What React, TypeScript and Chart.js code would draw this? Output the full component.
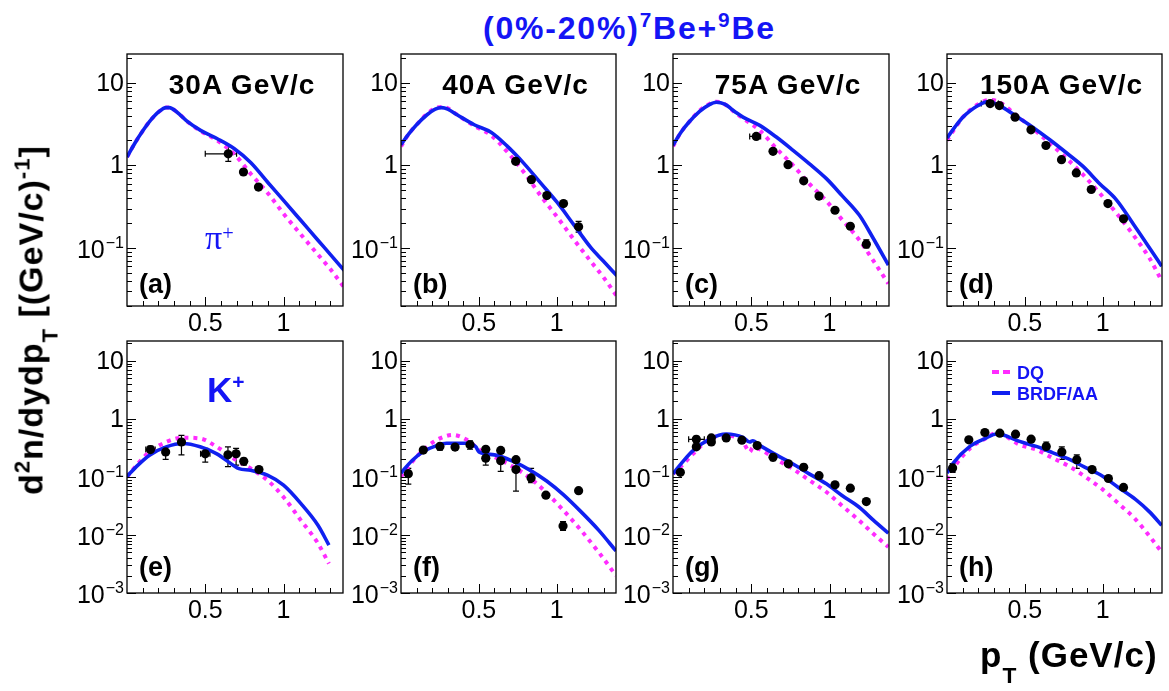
import React, { useEffect, useRef } from "react";
import { Chart, registerables } from "chart.js";
Chart.register(...registerables);

// ---------------- data ----------------
const X_MAX = 1.38;
const PI_Y_RANGE: [number, number] = [0.0198, 22.3];
const K_Y_RANGE: [number, number] = [0.001, 22];
const X_MAJOR_TICKS = [0.5, 1];
const X_MAJOR_LABELS = ["0.5", "1"];
const ENERGIES = ["30A GeV/c", "40A GeV/c", "75A GeV/c", "150A GeV/c"];
const TAGS = ["(a)", "(b)", "(c)", "(d)", "(e)", "(f)", "(g)", "(h)"];
const SERIES_NAMES = ["DQ", "BRDF/AA"];

type P = [number, number];
type E = number[]; // [x, y, yLo, yHi, xLo, xHi]

// pi+ , 30A
const A_BRDF: P[] = [[0, 1.26], [0.05, 1.85], [0.1, 2.6], [0.15, 3.5], [0.2, 4.4], [0.25, 5.0], [0.27, 5.0], [0.32, 4.4], [0.385, 3.4], [0.47, 2.65], [0.577, 2.1], [0.684, 1.6], [0.79, 1.08], [0.9, 0.62], [1.0, 0.376], [1.11, 0.216], [1.22, 0.124], [1.3, 0.083], [1.389, 0.053]];
const A_DQ: P[] = [[0, 1.26], [0.05, 1.85], [0.1, 2.6], [0.15, 3.5], [0.2, 4.4], [0.25, 5.0], [0.27, 5.0], [0.32, 4.4], [0.385, 3.4], [0.47, 2.6], [0.577, 2.0], [0.684, 1.38], [0.79, 0.79], [0.9, 0.46], [1.0, 0.26], [1.11, 0.146], [1.22, 0.083], [1.3, 0.055], [1.389, 0.033]];
const A_EXP: E[] = [[0.647, 1.38, 1.12, 1.67, 0.5, 0.7], [0.744, 0.83], [0.84, 0.546]];

// pi+ , 40A
const B_BRDF: P[] = [[0, 1.78], [0.05, 2.4], [0.1, 3.1], [0.167, 4.1], [0.22, 4.8], [0.26, 5.0], [0.3, 4.8], [0.36, 4.1], [0.47, 3.1], [0.58, 2.5], [0.68, 1.72], [0.79, 1.05], [0.9, 0.6], [1.0, 0.36], [1.11, 0.19], [1.22, 0.1], [1.3, 0.069], [1.386, 0.046]];
const B_DQ: P[] = [[0, 1.7], [0.05, 2.4], [0.1, 3.1], [0.167, 4.2], [0.22, 4.9], [0.26, 5.1], [0.3, 4.9], [0.36, 4.1], [0.47, 3.0], [0.58, 2.3], [0.68, 1.47], [0.79, 0.82], [0.9, 0.42], [1.0, 0.24], [1.11, 0.126], [1.22, 0.068], [1.3, 0.044], [1.386, 0.026]];
const B_EXP: E[] = [[0.736, 1.12], [0.837, 0.67], [0.936, 0.43], [1.043, 0.344], [1.14, 0.18, 0.155, 0.21]];

// pi+ , 75A
const C_BRDF: P[] = [[0, 1.75], [0.05, 2.5], [0.1, 3.3], [0.17, 4.5], [0.23, 5.4], [0.277, 5.8], [0.33, 5.5], [0.4, 4.4], [0.447, 3.84], [0.554, 3.05], [0.66, 2.2], [0.767, 1.52], [0.87, 1.05], [0.98, 0.69], [1.08, 0.43], [1.19, 0.25], [1.28, 0.13], [1.376, 0.062]];
const C_DQ: P[] = [[0, 1.7], [0.05, 2.5], [0.1, 3.3], [0.17, 4.6], [0.23, 5.5], [0.277, 5.9], [0.33, 5.5], [0.4, 4.3], [0.447, 3.7], [0.554, 2.65], [0.66, 1.6], [0.767, 1.0], [0.87, 0.6], [0.98, 0.37], [1.08, 0.22], [1.19, 0.125], [1.28, 0.07], [1.376, 0.037]];
const C_EXP: E[] = [[0.532, 2.24, 2.1, 2.4, 0.49, 0.56], [0.639, 1.48], [0.735, 1.02], [0.835, 0.65], [0.933, 0.425], [1.035, 0.286], [1.133, 0.183], [1.235, 0.111, 0.1, 0.125]];

// pi+ , 150A
const D_BRDF: P[] = [[0, 2.14], [0.05, 2.9], [0.1, 3.8], [0.15, 4.6], [0.2, 5.3], [0.256, 5.9], [0.3, 5.7], [0.36, 5.0], [0.447, 3.9], [0.55, 2.9], [0.66, 2.04], [0.77, 1.4], [0.873, 0.97], [0.98, 0.6], [1.086, 0.385], [1.2, 0.19], [1.3, 0.1], [1.378, 0.06]];
const D_DQ: P[] = [[0, 2.0], [0.05, 2.8], [0.1, 3.8], [0.15, 4.7], [0.2, 5.5], [0.27, 6.2], [0.33, 5.9], [0.447, 4.0], [0.55, 2.8], [0.66, 1.85], [0.77, 1.2], [0.873, 0.77], [0.98, 0.46], [1.086, 0.266], [1.2, 0.14], [1.3, 0.075], [1.378, 0.04]];
const D_EXP: E[] = [[0.277, 5.6, 5.3, 5.9, 0.22, 0.33], [0.336, 5.3], [0.437, 3.83], [0.539, 2.69], [0.635, 1.74], [0.735, 1.17], [0.83, 0.81], [0.926, 0.51], [1.033, 0.344], [1.133, 0.225]];

// K+ , 30A
const E_BRDF: P[] = [[0, 0.102], [0.07, 0.16], [0.144, 0.237], [0.25, 0.33], [0.36, 0.376], [0.467, 0.33], [0.574, 0.25], [0.68, 0.158], [0.715, 0.139], [0.79, 0.13], [0.897, 0.107], [1.0, 0.072], [1.11, 0.035], [1.22, 0.0147], [1.29, 0.0067]];
const E_DQ: P[] = [[0, 0.1], [0.07, 0.17], [0.144, 0.27], [0.25, 0.4], [0.36, 0.475], [0.467, 0.46], [0.574, 0.33], [0.68, 0.21], [0.79, 0.14], [0.897, 0.088], [1.0, 0.045], [1.11, 0.018], [1.22, 0.0072], [1.29, 0.0032]];
const E_EXP: E[] = [[0.15, 0.296, 0.26, 0.34, 0.12, 0.18], [0.247, 0.27, 0.2, 0.33], [0.348, 0.4, 0.24, 0.52], [0.5, 0.25, 0.18, 0.31, 0.47, 0.53], [0.645, 0.24, 0.15, 0.33], [0.697, 0.25, 0.16, 0.31], [0.746, 0.186, 0.16, 0.21], [0.843, 0.134, 0.12, 0.15]];

// K+ , 40A
const F_BRDF: P[] = [[0, 0.117], [0.07, 0.19], [0.143, 0.275], [0.22, 0.34], [0.293, 0.38], [0.42, 0.38], [0.48, 0.33], [0.5, 0.27], [0.6, 0.24], [0.72, 0.185], [0.83, 0.13], [0.935, 0.085], [1.04, 0.05], [1.15, 0.026], [1.27, 0.012], [1.38, 0.0053]];
const F_DQ: P[] = [[0, 0.1], [0.07, 0.18], [0.143, 0.29], [0.22, 0.42], [0.293, 0.51], [0.33, 0.53], [0.42, 0.44], [0.507, 0.29], [0.6, 0.22], [0.72, 0.15], [0.83, 0.095], [0.935, 0.053], [1.04, 0.027], [1.15, 0.0125], [1.27, 0.005], [1.38, 0.002]];
const F_EXP: E[] = [[0.047, 0.114, 0.075, 0.14], [0.143, 0.29], [0.25, 0.336, 0.29, 0.38], [0.347, 0.327], [0.443, 0.358, 0.3, 0.42], [0.544, 0.3], [0.544, 0.21, 0.16, 0.3], [0.64, 0.286], [0.64, 0.19, 0.125, 0.29], [0.738, 0.198], [0.738, 0.134, 0.057, 0.2], [0.835, 0.096, 0.08, 0.14], [0.93, 0.0485], [1.04, 0.0143, 0.012, 0.017], [1.14, 0.058]];

// K+ , 75A
const G_BRDF: P[] = [[0, 0.113], [0.06, 0.18], [0.128, 0.284], [0.234, 0.45], [0.34, 0.55], [0.447, 0.48], [0.49, 0.4], [0.51, 0.42], [0.554, 0.35], [0.66, 0.24], [0.767, 0.167], [0.87, 0.113], [0.98, 0.076], [1.08, 0.048], [1.19, 0.03], [1.28, 0.018], [1.376, 0.0107]];
const G_DQ: P[] = [[0, 0.113], [0.06, 0.16], [0.128, 0.25], [0.234, 0.45], [0.34, 0.52], [0.447, 0.4], [0.49, 0.27], [0.51, 0.32], [0.554, 0.3], [0.66, 0.2], [0.767, 0.137], [0.87, 0.088], [0.98, 0.055], [1.08, 0.032], [1.19, 0.0177], [1.28, 0.0105], [1.376, 0.0062]];
const G_EXP: E[] = [[0.047, 0.12], [0.149, 0.445, 0.4, 0.5, 0.1, 0.2], [0.149, 0.33], [0.245, 0.47], [0.245, 0.4], [0.34, 0.47], [0.44, 0.43], [0.538, 0.347], [0.639, 0.218, 0.19, 0.25], [0.737, 0.168], [0.835, 0.147, 0.13, 0.165], [0.933, 0.105], [1.035, 0.073], [1.133, 0.064], [1.235, 0.0376]];

// K+ , 150A
const H_BRDF: P[] = [[0, 0.117], [0.04, 0.174], [0.147, 0.336], [0.253, 0.47], [0.317, 0.55], [0.36, 0.53], [0.466, 0.41], [0.573, 0.336], [0.68, 0.26], [0.786, 0.2], [0.9, 0.14], [0.999, 0.103], [1.1, 0.066], [1.21, 0.041], [1.3, 0.025], [1.378, 0.0147]];
const H_DQ: P[] = [[0, 0.09], [0.04, 0.14], [0.147, 0.31], [0.253, 0.47], [0.317, 0.57], [0.36, 0.53], [0.466, 0.36], [0.573, 0.295], [0.68, 0.21], [0.786, 0.152], [0.9, 0.095], [0.999, 0.061], [1.1, 0.035], [1.21, 0.0186], [1.3, 0.0095], [1.378, 0.0051]];
const H_EXP: E[] = [[0.036, 0.143, 0.12, 0.17], [0.14, 0.436], [0.243, 0.583], [0.339, 0.568], [0.44, 0.546], [0.54, 0.447], [0.637, 0.336, 0.28, 0.4], [0.737, 0.27, 0.2, 0.33], [0.833, 0.198, 0.14, 0.24], [0.931, 0.134], [1.036, 0.094], [1.133, 0.066]];

// ---------------- layout / style ----------------
const FONT = "'Liberation Sans', Arial, Helvetica, sans-serif";
const BLUE_TEXT = "#1414f5";
const BLUE_LINE = "#1020f0";
const MAGENTA = "#ff2bff";

const COL_LEFT = [127, 401, 673, 947];
const COL_W = [216, 215, 216, 215];
const ROW_TOP = [54, 341];
const FRAME_H = 252;
const PAD = { left: 100, top: 6, right: 6, bottom: 42 };

const PANEL_DATA = [
  { dq: A_DQ, brdf: A_BRDF, exp: A_EXP },
  { dq: B_DQ, brdf: B_BRDF, exp: B_EXP },
  { dq: C_DQ, brdf: C_BRDF, exp: C_EXP },
  { dq: D_DQ, brdf: D_BRDF, exp: D_EXP },
  { dq: E_DQ, brdf: E_BRDF, exp: E_EXP },
  { dq: F_DQ, brdf: F_BRDF, exp: F_EXP },
  { dq: G_DQ, brdf: G_BRDF, exp: G_EXP },
  { dq: H_DQ, brdf: H_BRDF, exp: H_EXP },
];

function axesPlugin(yMin: number, yMax: number) {
  return {
    id: "rootAxes",
    afterDraw(chart: any) {
      const { ctx, chartArea: ca, scales } = chart;
      const xs = scales.x;
      const ys = scales.y;
      ctx.save();
      ctx.strokeStyle = "#000";
      ctx.lineWidth = 1.3;
      ctx.strokeRect(ca.left, ca.top, ca.right - ca.left, ca.bottom - ca.top);
      ctx.lineWidth = 1;
      ctx.fillStyle = "#000";
      const d0 = Math.floor(Math.log10(yMin));
      const d1 = Math.ceil(Math.log10(yMax));
      for (let d = d0; d <= d1; d++) {
        for (let m = 1; m <= 9; m++) {
          const v = m * Math.pow(10, d);
          if (v < yMin * 0.999 || v > yMax) continue;
          const py = Math.round(ys.getPixelForValue(v)) + 0.5;
          const len = m === 1 ? 9 : 5;
          ctx.beginPath();
          ctx.moveTo(ca.left, py);
          ctx.lineTo(ca.left + len, py);
          ctx.stroke();
          if (m === 1) {
            const right = ca.left - 3;
            const base = d === 0 ? "1" : "10";
            const exp = d < 0 ? "\u2212" + String(-d) : "";
            ctx.textBaseline = "middle";
            ctx.textAlign = "left";
            if (exp) {
              ctx.font = `16px ${FONT}`;
              const ew = ctx.measureText(exp).width;
              ctx.fillText(exp, right - ew, py - 5);
              ctx.font = `25px ${FONT}`;
              const bw = ctx.measureText(base).width;
              ctx.fillText(base, right - ew - bw - 1, py + 3);
            } else {
              ctx.font = `25px ${FONT}`;
              const bw = ctx.measureText(base).width;
              ctx.fillText(base, right - bw, py + 1);
            }
          }
        }
      }
      for (let k = 1; k * 0.1 < xs.max; k++) {
        const v = k * 0.1;
        const px = Math.round(xs.getPixelForValue(v)) + 0.5;
        const len = k % 5 === 0 ? 9 : 5;
        ctx.beginPath();
        ctx.moveTo(px, ca.bottom);
        ctx.lineTo(px, ca.bottom - len);
        ctx.stroke();
      }
      ctx.font = `25px ${FONT}`;
      ctx.textAlign = "center";
      ctx.textBaseline = "top";
      X_MAJOR_TICKS.forEach((v, i) => {
        ctx.fillText(X_MAJOR_LABELS[i], xs.getPixelForValue(v), ca.bottom + 6);
      });
      ctx.restore();
    },
  };
}

function errorBarPlugin(exp: E[]) {
  return {
    id: "errBars",
    beforeDatasetsDraw(chart: any) {
      const { ctx, scales } = chart;
      const xs = scales.x;
      const ys = scales.y;
      ctx.save();
      ctx.strokeStyle = "#000";
      ctx.lineWidth = 1.2;
      exp.forEach((e) => {
        const px = xs.getPixelForValue(e[0]);
        const py = ys.getPixelForValue(e[1]);
        if (e.length >= 4) {
          const lo = ys.getPixelForValue(e[2]);
          const hi = ys.getPixelForValue(e[3]);
          ctx.beginPath();
          ctx.moveTo(px, lo);
          ctx.lineTo(px, hi);
          ctx.moveTo(px - 3, lo);
          ctx.lineTo(px + 3, lo);
          ctx.moveTo(px - 3, hi);
          ctx.lineTo(px + 3, hi);
          ctx.stroke();
        }
        if (e.length >= 6) {
          const l = xs.getPixelForValue(e[4]);
          const r = xs.getPixelForValue(e[5]);
          ctx.beginPath();
          ctx.moveTo(l, py);
          ctx.lineTo(r, py);
          ctx.moveTo(l, py - 3);
          ctx.lineTo(l, py + 3);
          ctx.moveTo(r, py - 3);
          ctx.lineTo(r, py + 3);
          ctx.stroke();
        }
      });
      ctx.restore();
    },
  };
}

function Panel({ index }: { index: number }) {
  const ref = useRef<HTMLCanvasElement>(null);
  const row = index < 4 ? 0 : 1;
  const col = index % 4;
  const w = COL_W[col] + PAD.left + PAD.right;
  const h = FRAME_H + PAD.top + PAD.bottom;
  useEffect(() => {
    const pd = PANEL_DATA[index];
    const [yMin, yMax] = row === 0 ? PI_Y_RANGE : K_Y_RANGE;
    const chart = new Chart(ref.current as HTMLCanvasElement, {
      type: "scatter",
      data: {
        datasets: [
          {
            label: "data",
            data: pd.exp.map((e) => ({ x: e[0], y: e[1] })),
            backgroundColor: "#000",
            borderColor: "#000",
            pointRadius: 4.6,
            pointBorderWidth: 0,
            showLine: false,
          },
          {
            label: SERIES_NAMES[1],
            data: pd.brdf.map((p) => ({ x: p[0], y: p[1] })),
            borderColor: BLUE_LINE,
            borderWidth: 3.6,
            pointRadius: 0,
            showLine: true,
            cubicInterpolationMode: "monotone",
          },
          {
            label: SERIES_NAMES[0],
            data: pd.dq.map((p) => ({ x: p[0], y: p[1] })),
            borderColor: MAGENTA,
            borderWidth: 4,
            borderDash: [4, 5],
            pointRadius: 0,
            showLine: true,
            cubicInterpolationMode: "monotone",
          },
        ],
      } as any,
      options: {
        responsive: false,
        animation: false,
        devicePixelRatio: 1,
        layout: { padding: PAD },
        scales: {
          x: { type: "linear", min: 0, max: X_MAX, display: false },
          y: { type: "logarithmic", min: yMin, max: yMax, display: false },
        },
        plugins: { legend: { display: false }, tooltip: { enabled: false } },
      } as any,
      plugins: [axesPlugin(yMin, yMax), errorBarPlugin(pd.exp)] as any,
    });
    return () => chart.destroy();
  }, []);
  return (
    <canvas
      ref={ref}
      width={w}
      height={h}
      style={{ position: "absolute", left: COL_LEFT[col] - PAD.left, top: ROW_TOP[row] - PAD.top, width: w, height: h }}
    />
  );
}

const Sup = ({ children, top = "-0.57em", size = "0.65em" }: any) => (
  <span style={{ fontSize: size, position: "relative", top }}>{children}</span>
);
const Sub = ({ children, top = "0.7em", size = "0.65em" }: any) => (
  <span style={{ fontSize: size, position: "relative", top }}>{children}</span>
);

const abs = (o: any): React.CSSProperties => ({ position: "absolute", whiteSpace: "nowrap", lineHeight: 1, ...o });

export default function App() {
  return (
    <div style={{ position: "absolute", left: 0, top: 0, width: 1169, height: 691, background: "#fff", overflow: "hidden", fontFamily: FONT }}>
      {PANEL_DATA.map((_, i) => (
        <Panel key={i} index={i} />
      ))}
      {/* title */}
      <div style={abs({ left: 483, top: 10, font: `bold 32px ${FONT}`, color: BLUE_TEXT, letterSpacing: "1.8px" })}>
        (0%-20%)<Sup>7</Sup>Be+<Sup>9</Sup>Be
      </div>
      {/* energies */}
      {ENERGIES.map((t, i) => (
        <div key={t} style={abs({ left: COL_LEFT[i] + COL_W[i] / 2 + 7, top: 69, transform: "translateX(-50%)", font: `bold 28px ${FONT}`, color: "#000", letterSpacing: "1px" })}>
          {t}
        </div>
      ))}
      {/* panel tags */}
      {TAGS.map((t, i) => {
        const row = i < 4 ? 0 : 1;
        const col = i % 4;
        return (
          <div key={t} style={abs({ left: COL_LEFT[col] + 12, top: row === 0 ? 269 : 552, font: `bold 27px ${FONT}`, color: "#000" })}>
            {t}
          </div>
        );
      })}
      {/* particle labels */}
      <div style={abs({ left: 205, top: 219, font: `34px 'Liberation Serif', 'DejaVu Serif', serif`, color: BLUE_TEXT })}>
        π<Sup top="-0.45em" size="0.6em">+</Sup>
      </div>
      <div style={abs({ left: 207, top: 370, font: `bold 35px ${FONT}`, color: BLUE_TEXT })}>
        K<Sup top="-0.6em" size="0.6em">+</Sup>
      </div>
      {/* legend */}
      <div style={abs({ left: 992, top: 370, width: 7, height: 4, background: MAGENTA })} />
      <div style={abs({ left: 1003, top: 370, width: 7, height: 4, background: MAGENTA })} />
      <div style={abs({ left: 1017, top: 363, font: `bold 18px ${FONT}`, color: BLUE_TEXT })}>{SERIES_NAMES[0]}</div>
      <div style={abs({ left: 992, top: 391, width: 18, height: 4, background: BLUE_LINE })} />
      <div style={abs({ left: 1017, top: 384, font: `bold 18px ${FONT}`, color: BLUE_TEXT })}>{SERIES_NAMES[1]}</div>
      {/* y title */}
      <div style={abs({ left: 31, top: 320, transform: "translate(-50%, -50%) rotate(-90deg)", font: `bold 34px ${FONT}`, color: "#000", letterSpacing: "1px" })}>
        d<Sup>2</Sup>n/dydp<Sub>T</Sub> [(GeV/c)<Sup>-1</Sup>]
      </div>
      {/* x title */}
      <div style={abs({ left: 980, top: 635, font: `bold 35px ${FONT}`, color: "#000", letterSpacing: "1px" })}>
        p<Sub>T</Sub> (GeV/c)
      </div>
    </div>
  );
}
